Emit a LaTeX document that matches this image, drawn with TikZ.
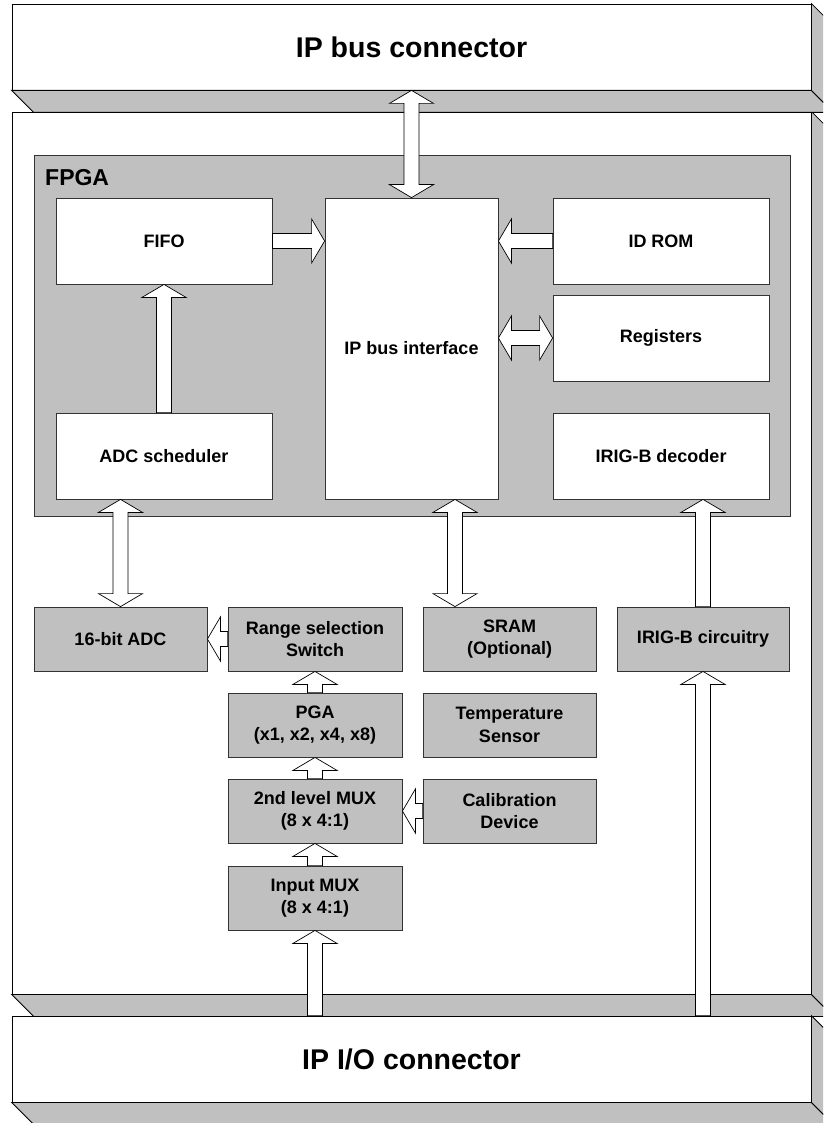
\documentclass[tikz,border=0pt]{standalone}
\usepackage{fontspec}
\setmainfont{Liberation Sans}
\usetikzlibrary{calc}
\definecolor{panel}{HTML}{C0C0C0}
\tikzset{
  face/.style={draw=black, line width=0.8pt, fill=white, inner sep=0pt, font=\bfseries\fontsize{28.5}{32}\selectfont},
  side/.style={draw=black, line width=0.8pt, fill=panel, line join=miter},
  wbox/.style={draw=black!80, line width=0.8pt, fill=white, inner sep=0pt, align=center, font=\bfseries\fontsize{18}{22.5}\selectfont},
  gbox/.style={wbox, fill=panel},
  barrow/.style={draw=black, fill=white, line width=0.7pt, line join=miter},
}
\newcommand\sarrow[2]{%
  \draw[barrow] ($(#1)!7.5pt!90:(#2)$) -- ($($(#2)!13pt!(#1)$)!7.5pt!90:(#2)$) -- ($($(#2)!13pt!(#1)$)!22pt!90:(#2)$) -- (#2) -- ($($(#2)!13pt!(#1)$)!22pt!-90:(#2)$) -- ($($(#2)!13pt!(#1)$)!7.5pt!-90:(#2)$) -- ($(#1)!7.5pt!-90:(#2)$) -- cycle;}
\newcommand\darrow[2]{%
  \draw[barrow] (#1) -- ($($(#1)!13pt!(#2)$)!22pt!90:(#2)$) -- ($($(#1)!13pt!(#2)$)!7.5pt!90:(#2)$) -- ($($(#2)!13pt!(#1)$)!7.5pt!90:(#2)$) -- ($($(#2)!13pt!(#1)$)!22pt!90:(#2)$) -- (#2) -- ($($(#2)!13pt!(#1)$)!22pt!-90:(#2)$) -- ($($(#2)!13pt!(#1)$)!7.5pt!-90:(#2)$) -- ($($(#1)!13pt!(#2)$)!7.5pt!-90:(#2)$) -- ($($(#1)!13pt!(#2)$)!22pt!-90:(#2)$) -- cycle;}
\newcommand\boxsides[1]{%
  \path[side] (#1.south west) -- (#1.south east) -- ($(#1.south east)+(22,22)$) -- ($(#1.south west)+(22,22)$) -- cycle;
  \path[side] (#1.north east) -- ($(#1.north east)+(22,22)$) -- ($(#1.south east)+(22,22)$) -- (#1.south east) -- cycle;}
\begin{document}
\begin{tikzpicture}[x=1pt,y=-1pt]
\useasboundingbox (0,0) rectangle (823,1123);
\clip (0,0) rectangle (823,1123);

% board
\node[face, minimum width=799pt, minimum height=882pt] (board) at (411.5,553) {};
\boxsides{board}
% top connector
\node[face, minimum width=799pt, minimum height=86pt] (topc) at (411.5,47) {IP bus connector};
\boxsides{topc}
% bottom connector
\node[face, minimum width=799pt, minimum height=86pt] (botc) at (411.5,1059) {IP I/O connector};
\boxsides{botc}

% FPGA
\node[gbox, minimum width=756pt, minimum height=361pt] (fpga) at (412,335.5) {};
\node[anchor=base west, inner sep=0pt, font=\bfseries\fontsize{23}{26}\selectfont] (fpgalbl) at (45,186) {FPGA};

\node[wbox, minimum width=216pt, minimum height=86pt] (fifo) at (164,241) {FIFO};
\node[wbox, minimum width=216pt, minimum height=86pt] (adcs) at (164,456) {ADC scheduler};
\node[wbox, minimum width=173pt, minimum height=301pt] (ipbus) at (411.5,348.5) {IP bus interface};
\node[wbox, minimum width=216pt, minimum height=86pt] (idrom) at (661,241) {ID ROM};
\node[wbox, minimum width=216pt, minimum height=86pt] (regs) at (661,338) {Registers};
\node[wbox, minimum width=216pt, minimum height=86pt] (irigd) at (661,456) {IRIG-B decoder};

% lower boxes
\node[gbox, minimum width=173pt, minimum height=64pt] (adc) at (120.5,639) {16-bit ADC};
\node[gbox, minimum width=174pt, minimum height=64pt] (range) at (315,639) {Range selection\\Switch};
\node[gbox, minimum width=173pt, minimum height=64pt] (sram) at (509.5,639) {SRAM\\(Optional)};
\node[gbox, minimum width=172pt, minimum height=64pt] (irigc) at (703,639) {IRIG-B circuitry};
\node[gbox, minimum width=174pt, minimum height=64pt] (pga) at (315,725) {PGA\\(x1, x2, x4, x8)};
\node[gbox, minimum width=173pt, minimum height=64pt] (temp) at (509.5,725) {Temperature\\Sensor};
\node[gbox, minimum width=174pt, minimum height=64pt] (mux2) at (315,811) {2nd level MUX\\(8 x 4:1)};
\node[gbox, minimum width=173pt, minimum height=64pt] (cal) at (509.5,811) {Calibration\\Device};
\node[gbox, minimum width=174pt, minimum height=64pt] (inmux) at (315,898) {Input MUX\\(8 x 4:1)};

% connector end points
\coordinate (c1) at (topc.south -| ipbus.north);
\coordinate (c2) at (fifo.east -| ipbus.west);
\coordinate (c3) at (idrom.west -| ipbus.east);
\coordinate (c4) at (regs.west -| ipbus.east);
\coordinate (c5) at (adcs.south -| adc.north);
\coordinate (c6) at ($(ipbus.south)+(43.5,0)$);
\coordinate (c7) at (sram.north -| c6);
\coordinate (c8) at (irigd.south -| irigc.north);
\coordinate (c9) at (botc.north -| irigc.south);
\coordinate (c10) at (botc.north -| inmux.south);
\coordinate (c11) at (range.west -| adc.east);
\coordinate (c12) at (cal.west -| mux2.east);

% connectors
\darrow{c1}{ipbus.north}
\sarrow{fifo.east}{c2}
\sarrow{idrom.west}{c3}
\darrow{c4}{regs.west}
\sarrow{adcs.north}{fifo.south}
\darrow{c5}{adc.north}
\darrow{c6}{c7}
\sarrow{irigc.north}{c8}
\sarrow{c9}{irigc.south}
\sarrow{c10}{inmux.south}
\sarrow{inmux.north}{mux2.south}
\sarrow{mux2.north}{pga.south}
\sarrow{pga.north}{range.south}
\sarrow{range.west}{c11}
\sarrow{cal.west}{c12}
\end{tikzpicture}
\end{document}
